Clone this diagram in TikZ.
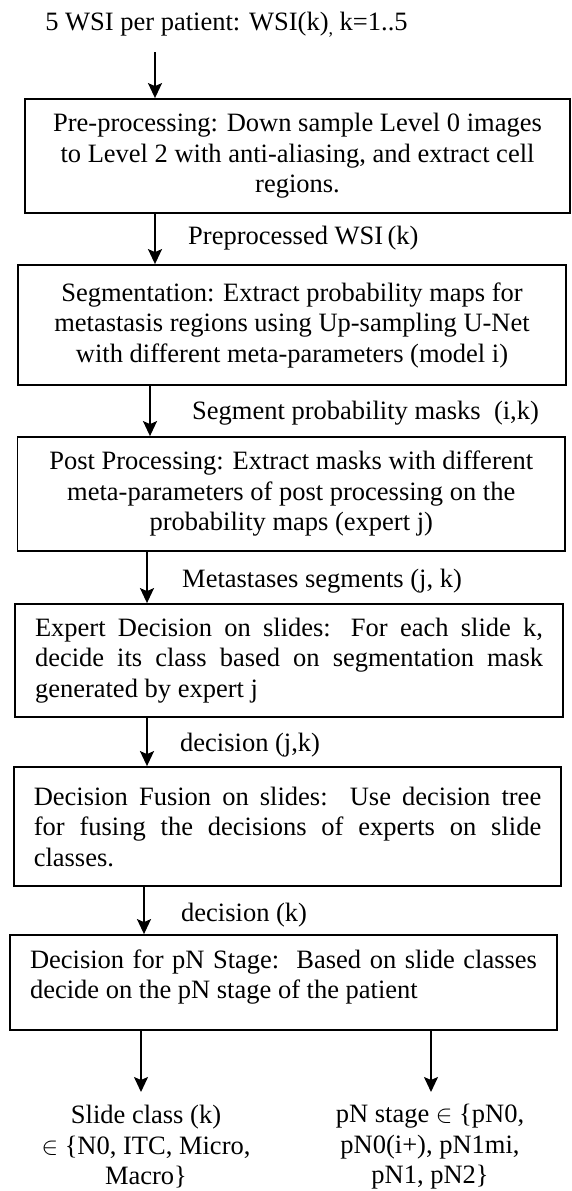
\documentclass[tikz,border=0pt]{standalone}
\usepackage{fontspec}
\setmainfont{Liberation Serif}
\usetikzlibrary{arrows.meta}
\begin{document}
\begin{tikzpicture}[x=1pt,y=-1pt,
  every node/.style={font=\fontsize{26.5}{30.5}\selectfont},
  box/.style={draw, line width=1.8pt, inner sep=0pt, anchor=center},
  lbl/.style={anchor=west, inner sep=0pt},
  arr/.style={line width=1.8pt, -{Stealth[length=15pt,width=14pt,inset=3pt]}}]
\useasboundingbox (0,0) rectangle (571,1191);

% top input text
\node[inner sep=0pt] (in) at (226.5,25) {5 WSI per patient: WSI(k)\raisebox{-4pt}{\fontsize{18}{20}\selectfont,} k=1..5};

% boxes
\node[box, minimum width=545pt, minimum height=114pt, align=center] (b1) at (297.5,156)
 {Pre-processing: Down sample Level 0 images\\ to Level 2 with anti-aliasing, and extract cell\\ regions.};
\node[box, minimum width=548pt, minimum height=120pt, align=center] (b2) at (292,325)
 {Segmentation: Extract probability maps for\\ metastasis regions using Up-sampling U-Net\\ with different meta-parameters (model i)};
\node[box, minimum width=547.5pt, minimum height=114pt, align=center] (b3) at (291.25,494)
 {Post Processing: Extract masks with different\\ meta-parameters of post processing on the\\ probability maps (expert j)};
\node[box, minimum width=548pt, minimum height=113pt, align=left] (b4) at (289,660.5)
 {\makebox[508pt][s]{Expert Decision on slides: For each slide k,}\\
  \makebox[508pt][s]{decide its class based on segmentation mask}\\
  generated by expert j};
\node[box, minimum width=547pt, minimum height=119pt, align=left] (b5) at (287.5,826.5)
 {\makebox[507.5pt][s]{Decision Fusion on slides:~~Use decision tree}\\
  \makebox[507.5pt][s]{for fusing the decisions of experts on slide}\\
  classes.};
\node[box, minimum width=547pt, minimum height=95pt] (b6) at (283.5,982.5)
 {\begin{minipage}{507pt}\makebox[507pt][s]{Decision for pN Stage:~~Based on slide classes}\\
  decide on the pN stage of the patient\par\vspace*{11pt}\end{minipage}};

% outputs
\node[inner sep=0pt, align=center] (o1) at (146,1147)
 {Slide class (k)\\ $\in$ \{N0, ITC, Micro,\\ Macro\}};
\node[inner sep=0pt, align=center] (o2) at (430,1147)
 {pN stage $\in$ \{pN0,\\ pN0(i+), pN1mi,\\ pN1, pN2\}};

% arrow x positions
\coordinate (xa) at (155,52);
\coordinate (xb) at (150,0);
\coordinate (xc) at (147,0);
\coordinate (xd) at (144,0);
\coordinate (t1) at (141,1092);
\coordinate (t2) at (431,1092);

% connectors
\draw[arr] (xa) -- (xa |- b1.north);
\draw[arr] (b1.south -| xa) -- (b2.north -| xa);
\draw[arr] (b2.south -| xb) -- (b3.north -| xb);
\draw[arr] (b3.south -| xc) -- (b4.north -| xc);
\draw[arr] (b4.south -| xc) -- (b5.north -| xc);
\draw[arr] (b5.south -| xd) -- (b6.north -| xd);
\draw[arr] (b6.south -| t1) -- (t1);
\draw[arr] (b6.south -| t2) -- (t2);

% connector labels
\node[lbl] (l1) at (188,238) {Preprocessed WSI\,(k)};
\node[lbl] (l2) at (192,413) {Segment probability masks~~(i,k)};
\node[lbl] (l3) at (182,581) {Metastases segments (j, k)};
\node[lbl] (l4) at (180,745) {decision (j,k)};
\node[lbl] (l5) at (181,915) {decision (k)};
\end{tikzpicture}
\end{document}
